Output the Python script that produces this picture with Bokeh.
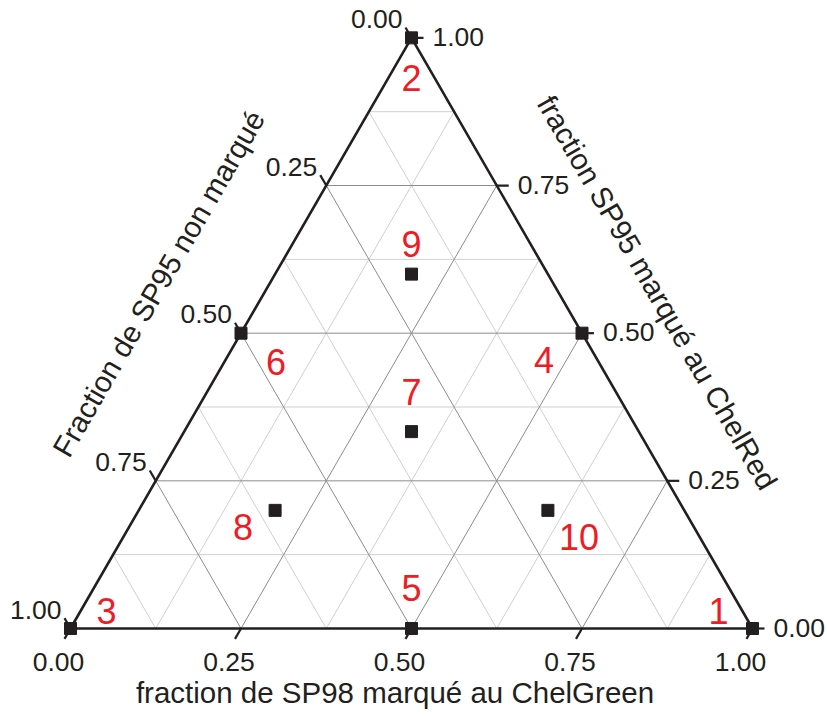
import numpy as np
from bokeh.plotting import figure
from bokeh.models import Range1d, ColumnDataSource
from bokeh.core.properties import value
from bokeh.embed import file_html
from bokeh.resources import INLINE

# ---------------- data (ternary fractions) ----------------
point_labels = ["1", "2", "3", "4", "5", "6", "7", "8", "9", "10"]
frac_green = [1.0, 0.0, 0.0, 0.5, 0.5, 0.0, 1 / 3, 0.2, 0.2, 0.6]      # SP98 marqué au ChelGreen
frac_red = [0.0, 1.0, 0.0, 0.5, 0.0, 0.5, 1 / 3, 0.2, 0.6, 0.2]        # SP95 marqué au ChelRed
frac_unmarked = [0.0, 0.0, 1.0, 0.0, 0.5, 0.5, 1 / 3, 0.6, 0.2, 0.2]   # SP95 non marqué

tick_values = [0.0, 0.25, 0.5, 0.75, 1.0]
tick_labels = ["0.00", "0.25", "0.50", "0.75", "1.00"]
grid_major = [0.25, 0.5, 0.75]
grid_minor = [0.125, 0.375, 0.625, 0.875]

bottom_title = "fraction de SP98 marqué au ChelGreen"
left_title = "Fraction de SP95 non marqué"
right_title = "fraction SP95 marqué au ChelRed"

# ---------------- styles / positions ----------------
FONT = "Liberation Sans"
DARK = "#231f20"
RED = "#ee1c25"
S = 682.0            # pixels per unit side
H = np.sqrt(3) / 2
W_PX, H_PX = 827, 716
X_ORIG, Y_ORIG = 70, 628   # pixel position of the bottom-left vertex
label_dx = [-34, 0, 36, -38, 0, 35, 0, -32, 0, 31]
label_dy = [-18, 40, -18, 27, -41, 29, -40, 17, -30, 27]


def tern(g, r, u):
    tot = g + r + u
    g, r = g / tot, r / tot
    return g + r / 2.0, r * H


p = figure(width=W_PX, height=H_PX,
           x_range=Range1d((0 - X_ORIG) / S, (W_PX - X_ORIG) / S),
           y_range=Range1d((Y_ORIG - H_PX) / S, Y_ORIG / S),
           min_border=0, toolbar_location=None, output_backend="svg",
           x_axis_location=None, y_axis_location=None)
p.grid.visible = False
p.outline_line_color = None
p.background_fill_color = "white"
p.border_fill_color = "white"


def grid_lines(levels):
    xs, ys = [], []
    for v in levels:
        a, b = tern(0, v, 1 - v), tern(1 - v, v, 0)
        xs.append([a[0], b[0]]); ys.append([a[1], b[1]])
        a, b = tern(v, 0, 1 - v), tern(v, 1 - v, 0)
        xs.append([a[0], b[0]]); ys.append([a[1], b[1]])
        a, b = tern(1 - v, 0, v), tern(0, 1 - v, v)
        xs.append([a[0], b[0]]); ys.append([a[1], b[1]])
    return xs, ys


xs, ys = grid_lines(grid_minor)
p.multi_line(xs, ys, line_color="#cfcfcf", line_width=1)
xs, ys = grid_lines(grid_major)
p.multi_line(xs, ys, line_color="#8c8c8c", line_width=1)

corners = [tern(0, 0, 1), tern(1, 0, 0), tern(0, 1, 0), tern(0, 0, 1)]
p.line([c[0] for c in corners], [c[1] for c in corners], line_color=DARK, line_width=2.6)

L = 12 / S
tx0, ty0, tx1, ty1 = [], [], [], []
bx, by, lx, ly, rx, ry = [], [], [], [], [], []
for t in tick_values:
    x, y = tern(t, 0, 1 - t)
    tx0.append(x); ty0.append(y); tx1.append(x - 0.5 * L); ty1.append(y - H * L)
    bx.append(x); by.append(y)
    x, y = tern(1 - t, t, 0)
    tx0.append(x); ty0.append(y); tx1.append(x + L); ty1.append(y)
    rx.append(x); ry.append(y)
    x, y = tern(0, 1 - t, t)
    tx0.append(x); ty0.append(y); tx1.append(x - 0.5 * L); ty1.append(y + H * L)
    lx.append(x); ly.append(y)
p.segment(tx0, ty0, tx1, ty1, line_color=DARK, line_width=2.2)

tick_style = dict(text_font=value(FONT), text_font_size="26.5px", text_color=DARK,
                  text_baseline="middle")
p.text(bx, by, text=tick_labels, text_align="center", x_offset=-12, y_offset=33, **tick_style)
p.text(lx, ly, text=tick_labels, text_align="right", x_offset=-9, y_offset=-19, **tick_style)
p.text(rx, ry, text=tick_labels, text_align="left", x_offset=21, y_offset=-1, **tick_style)

title_style = dict(text_font=value(FONT), text_font_size="29.5px", text_color=DARK,
                   text_align="center", text_baseline="middle")
p.text([(394.5 - X_ORIG) / S], [(Y_ORIG - 692) / S], text=[bottom_title], **title_style)
p.text([(158 - X_ORIG) / S], [(Y_ORIG - 283) / S], text=[left_title], angle=np.pi / 3, **title_style)
p.text([(657 - X_ORIG) / S], [(Y_ORIG - 292) / S], text=[right_title], angle=-np.pi / 3, **title_style)

px, py = [], []
for g, r, u in zip(frac_green, frac_red, frac_unmarked):
    x, y = tern(g, r, u)
    px.append(x); py.append(y)
src = ColumnDataSource(dict(x=px, y=py, label=point_labels, dx=label_dx, dy=label_dy))
p.scatter("x", "y", source=src, marker="square", size=12, fill_color=DARK, line_color=DARK)
p.text("x", "y", text="label", source=src, x_offset="dx", y_offset="dy",
       text_font=value(FONT), text_font_size="36px", text_color=RED,
       text_align="center", text_baseline="middle")

open("out.html", "w").write(file_html(p, INLINE))
